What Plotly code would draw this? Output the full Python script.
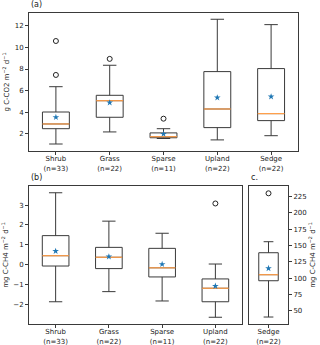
import plotly.graph_objects as go

# panel (a): CO2 flux, g C-CO2 m-2 d-1
co2_cats = ["Shrub", "Grass", "Sparse", "Upland", "Sedge"]
co2_n = [33, 22, 11, 22, 22]
co2_low = [1.04, 2.16, 1.55, 1.42, 1.81]
co2_q1 = [2.46, 3.52, 1.62, 2.56, 3.21]
co2_med = [2.9, 5.06, 1.72, 4.29, 3.86]
co2_q3 = [4.01, 5.56, 2.07, 7.76, 8.04]
co2_high = [6.36, 8.35, 2.46, 12.62, 12.12]
co2_mean = [3.52, 4.88, 1.97, 5.34, 5.43]
co2_out_x = [1, 1, 2, 3]
co2_out_y = [7.45, 10.6, 8.94, 3.39]

# panel (b): CH4 flux, mg C-CH4 m-2 d-1
ch4_cats = ["Shrub", "Grass", "Sparse", "Upland"]
ch4_n = [33, 22, 11, 22]
ch4_low = [-1.87, -1.36, -1.83, -2.65]
ch4_q1 = [-0.07, -0.2, -0.62, -1.87]
ch4_med = [0.45, 0.37, -0.16, -1.19]
ch4_q3 = [1.46, 0.87, 0.82, -0.72]
ch4_high = [3.62, 2.19, 1.58, 0.03]
ch4_mean = [0.68, 0.40, 0.02, -1.08]
ch4_out_x = [4]
ch4_out_y = [3.08]

# panel (c): sedge CH4
sed_cats = ["Sedge"]
sed_n = [22]
sed_low = [40.3]
sed_q1 = [96.0]
sed_med = [105.3]
sed_q3 = [139.0]
sed_high = [155.9]
sed_mean = [115.0]
sed_out_x = [1]
sed_out_y = [230.2]

FONT = "DejaVu Sans"
EDGE = "#3a3a3a"
W, H = 320, 345

fig = go.Figure()


def add_panel(xa, ya, low, q1, med, q3, high, mean, out_x, out_y):
    pos = list(range(1, len(med) + 1))
    fig.add_trace(go.Box(
        x=pos, q1=q1, median=med, q3=q3, lowerfence=low, upperfence=high,
        width=0.5, whiskerwidth=0.5, fillcolor="white",
        line=dict(color=EDGE, width=1), boxpoints=False,
        xaxis=xa, yaxis=ya, showlegend=False, hoverinfo="skip",
    ))
    # orange median lines
    mx, my = [], []
    for p, m in zip(pos, med):
        mx += [p - 0.25, p + 0.25, None]
        my += [m, m, None]
    fig.add_trace(go.Scatter(x=mx, y=my, mode="lines",
                             line=dict(color="#ff9f4a", width=1.2),
                             xaxis=xa, yaxis=ya, showlegend=False))
    fig.add_trace(go.Scatter(x=pos, y=mean, mode="markers",
                             marker=dict(symbol="star", color="#1f77b4", size=5),
                             xaxis=xa, yaxis=ya, showlegend=False))
    fig.add_trace(go.Scatter(x=out_x, y=out_y, mode="markers",
                             marker=dict(symbol="circle-open", color="#222222", size=5,
                                         line=dict(width=1)),
                             xaxis=xa, yaxis=ya, showlegend=False))


add_panel("x", "y", co2_low, co2_q1, co2_med, co2_q3, co2_high, co2_mean, co2_out_x, co2_out_y)
add_panel("x2", "y2", ch4_low, ch4_q1, ch4_med, ch4_q3, ch4_high, ch4_mean, ch4_out_x, ch4_out_y)
add_panel("x3", "y3", sed_low, sed_q1, sed_med, sed_q3, sed_high, sed_mean, sed_out_x, sed_out_y)


def labels(cats, ns):
    return [f"{c}<br>(n={n})" for c, n in zip(cats, ns)]


def px_x(a, b):
    return [a / W, b / W]


def px_y(top, bottom):
    return [1 - bottom / H, 1 - top / H]


ax_common = dict(showline=True, mirror=True, linecolor=EDGE, linewidth=1,
                 ticks="outside", ticklen=3, tickcolor=EDGE, showgrid=False,
                 zeroline=False, automargin=False, tickfont=dict(size=7, color="#222"))
x_extra = dict(ticklabelstandoff=-2)

fig.update_layout(
    width=W, height=H,
    margin=dict(l=0, r=0, t=0, b=0),
    paper_bgcolor="white", plot_bgcolor="white",
    font=dict(family=FONT, size=7, color="#222"),
    xaxis=dict(domain=px_x(29, 298), range=[0.5, 5.5], tickvals=[1, 2, 3, 4, 5],
               ticktext=labels(co2_cats, co2_n), anchor="y", **x_extra, **ax_common),
    yaxis=dict(domain=px_y(13, 151), range=[0.39, 13.2], tickvals=[2, 4, 6, 8, 10, 12],
               anchor="x", title=dict(text="g C-CO2 m<sup>−2</sup> d<sup>−1</sup>",
                                      font=dict(size=7), standoff=4), **ax_common),
    xaxis2=dict(domain=px_x(29, 242), range=[0.5, 4.5], tickvals=[1, 2, 3, 4],
                ticktext=labels(ch4_cats, ch4_n), anchor="y2", **x_extra, **ax_common),
    yaxis2=dict(domain=px_y(186, 324), range=[-2.99, 3.96], tickvals=[-2, -1, 0, 1, 2, 3],
                anchor="x2", title=dict(text="mg C-CH4 m<sup>−2</sup> d<sup>−1</sup>",
                                        font=dict(size=7), standoff=4), **ax_common),
    xaxis3=dict(domain=px_x(249, 288), range=[0.5, 1.5], tickvals=[1],
                ticktext=labels(sed_cats, sed_n), anchor="y3", **x_extra, **ax_common),
    yaxis3=dict(domain=px_y(186, 324), range=[29.6, 241.4],
                tickvals=[50, 75, 100, 125, 150, 175, 200, 225], side="right",
                anchor="x3", title=dict(text="mg C-CH4 m<sup>−2</sup> d<sup>−1</sup>",
                                        font=dict(size=7), standoff=4), **ax_common),
)

for txt, xp, yp in [("(a)", 29, 11), ("(b)", 29, 184), ("c.", 249, 184)]:
    fig.add_annotation(text=txt, x=xp / W, y=1 - yp / H, xref="paper", yref="paper",
                       xanchor="left", yanchor="bottom", showarrow=False,
                       font=dict(size=8, color="#222"))

# page body has a default 8px margin; drop it so the figure fills the window
fig.write_html("out.html", config={"displayModeBar": False},
               post_script="document.body.style.margin='0';")
